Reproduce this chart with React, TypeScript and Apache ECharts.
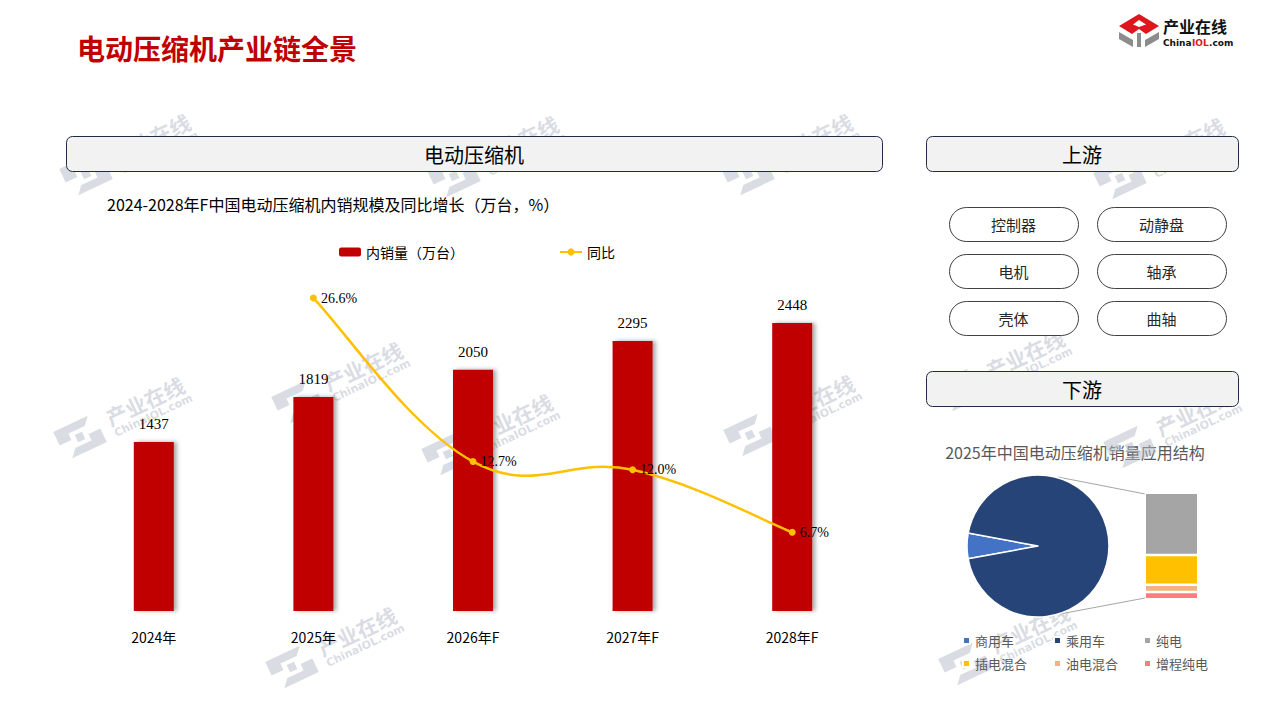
import React, { useEffect, useRef } from "react";
import * as echarts from "echarts";

// ---- data ----
const years = ["2024年", "2025年", "2026年F", "2027年F", "2028年F"];
const salesVolume = [1437, 1819, 2050, 2295, 2448];
const yoyGrowth: (number | null)[] = [null, 26.6, 12.7, 12.0, 6.7];

const upstreamParts = ["控制器", "动静盘", "电机", "轴承", "壳体", "曲轴"];

const vehicleNames = ["商用车", "乘用车"];
const vehicleShares = [5.8, 94.2];

const powertrainNames = ["纯电", "插电混合", "油电混合", "增程纯电"];
const powertrainShares = [58.4, 27.9, 7.0, 6.7];

// ---- styles ----
const FONT = "'Noto Sans CJK SC', 'Noto Sans', sans-serif";
const SERIF = "'Liberation Serif', 'DejaVu Serif', serif";
const LATIN = "'DejaVu Sans', sans-serif";
const RED = "#C00000";
const GOLD = "#FFC000";
const vehicleColors = ["#4472C4", "#264478"];
const powertrainColors = ["#A5A5A5", "#FFC000", "#F4B183", "#FF7C80"];
const CURVE_TENSION = 0.2;

// faint brand watermark placed across the page (logo centre points)
const watermarkSpots: [number, number][] = [
  [86, 174], [454, 176], [748, 174], [1120, 178],
  [80, 437], [298, 402], [448, 454], [750, 435], [960, 390], [1130, 447],
  [292, 667], [965, 664],
];

function watermark(x: number, y: number) {
  const fill = "#b4bac7";
  return {
    type: "group",
    x,
    y,
    rotation: 0.44,
    z: 100,
    silent: true,
    children: [
      {
        type: "polygon",
        shape: { points: [[-22, -16], [16, -16], [9, -8], [-9, -8], [-9, -1], [-22, -1]] },
        style: { fill, opacity: 0.5 },
      },
      {
        type: "polygon",
        shape: { points: [[22, 16], [-16, 16], [-9, 8], [9, 8], [9, 1], [22, 1]] },
        style: { fill, opacity: 0.5 },
      },
      {
        type: "rect",
        shape: { x: -4, y: -4, width: 8, height: 8 },
        style: { fill, opacity: 0.5 },
      },
      {
        type: "text",
        x: 32,
        y: -5,
        style: {
          text: "产业在线",
          fill,
          opacity: 0.5,
          font: `bold 21px ${FONT}`,
          align: "left",
          verticalAlign: "middle",
        },
      },
      {
        type: "text",
        x: 33,
        y: 12,
        style: {
          text: "ChinaIOL.com",
          fill,
          opacity: 0.5,
          font: `bold 11px ${LATIN}`,
          align: "left",
          verticalAlign: "middle",
        },
      },
    ],
  };
}

function headerBox(x: number, y: number, w: number, label: string) {
  return [
    {
      type: "rect",
      z: 1,
      silent: true,
      shape: { x: x + 0.5, y: y + 0.5, width: w, height: 35, r: 6 },
      style: { fill: "#F2F2F2", stroke: "#1F2A44", lineWidth: 1 },
    },
    {
      type: "text",
      z: 2,
      silent: true,
      x: x + w / 2,
      y: y + 18,
      style: {
        text: label,
        fill: "#000",
        font: `20px ${FONT}`,
        align: "center",
        verticalAlign: "middle",
      },
    },
  ];
}

function pill(x: number, y: number, label: string) {
  return [
    {
      type: "rect",
      z: 1,
      silent: true,
      shape: { x: x + 0.5, y: y + 0.5, width: 129, height: 34, r: 17 },
      style: { fill: "#fff", stroke: "#404040", lineWidth: 1 },
    },
    {
      type: "text",
      z: 2,
      silent: true,
      x: x + 64.5,
      y: y + 17.5,
      style: {
        text: label,
        fill: "#262626",
        font: `15px ${FONT}`,
        align: "center",
        verticalAlign: "middle",
      },
    },
  ];
}

// smoothed growth curve: cubic segments through the growth points
function renderGrowthCurve(params: any, api: any) {
  const i = params.dataIndex;
  const valid = (k: number) => k >= 0 && k < yoyGrowth.length && yoyGrowth[k] != null;
  if (!valid(i) || !valid(i + 1)) return { type: "group", children: [] };
  const pt = (k: number) => api.coord([k, yoyGrowth[k] as number]);
  const p0 = pt(valid(i - 1) ? i - 1 : i);
  const p1 = pt(i);
  const p2 = pt(i + 1);
  const p3 = pt(valid(i + 2) ? i + 2 : i + 1);
  return {
    type: "bezierCurve",
    shape: {
      x1: p1[0],
      y1: p1[1],
      cpx1: p1[0] + (p2[0] - p0[0]) * CURVE_TENSION,
      cpy1: p1[1] + (p2[1] - p0[1]) * CURVE_TENSION,
      cpx2: p2[0] - (p3[0] - p1[0]) * CURVE_TENSION,
      cpy2: p2[1] - (p3[1] - p1[1]) * CURVE_TENSION,
      x2: p2[0],
      y2: p2[1],
    },
    style: { stroke: GOLD, lineWidth: 2.5, fill: "none" },
  };
}

function buildOption() {
  const pillCols = [949, 1097];
  const pillRows = [207, 254, 301];
  const pills = upstreamParts.flatMap((p, i) =>
    pill(pillCols[i % 2], pillRows[Math.floor(i / 2)], p)
  );

  const graphic: any[] = [
    // page title
    {
      type: "text",
      x: 77,
      y: 48,
      silent: true,
      style: {
        text: "电动压缩机产业链全景",
        fill: RED,
        font: `bold 28px ${FONT}`,
        align: "left",
        verticalAlign: "middle",
      },
    },
    // brand logo, top right
    {
      type: "group",
      x: 1119,
      y: 14,
      silent: true,
      children: [
        {
          type: "polygon",
          shape: { points: [[20, 0], [40, 12], [27, 20], [20, 15], [13, 20], [0, 12]] },
          style: { fill: "#E0161E" },
        },
        {
          type: "polygon",
          shape: { points: [[20, 6], [27, 10.5], [20, 13], [14, 10.5]] },
          style: { fill: "#fff" },
        },
        {
          type: "polygon",
          shape: { points: [[0, 18], [14, 26], [14, 33], [0, 25]] },
          style: { fill: "#8C8C8C" },
        },
        {
          type: "polygon",
          shape: { points: [[26, 26], [40, 18], [40, 25], [26, 33]] },
          style: { fill: "#8C8C8C" },
        },
        {
          type: "rect",
          shape: { x: 18, y: 19, width: 4, height: 14 },
          style: { fill: "#8C8C8C" },
        },
      ],
    },
    {
      type: "text",
      x: 1163,
      y: 26,
      silent: true,
      style: {
        text: "产业在线",
        fill: "#111",
        font: `bold 16px ${FONT}`,
        align: "left",
        verticalAlign: "middle",
      },
    },
    {
      type: "text",
      x: 1163,
      y: 43,
      silent: true,
      style: { text: "China", fill: "#111", font: `bold 9px ${LATIN}`, align: "left", verticalAlign: "middle" },
    },
    {
      type: "text",
      x: 1192,
      y: 43,
      silent: true,
      style: { text: "IOL", fill: "#E0161E", font: `bold 9px ${LATIN}`, align: "left", verticalAlign: "middle" },
    },
    {
      type: "text",
      x: 1209,
      y: 43,
      silent: true,
      style: { text: ".com", fill: "#111", font: `bold 9px ${LATIN}`, align: "left", verticalAlign: "middle" },
    },
    ...headerBox(66, 136, 816, "电动压缩机"),
    ...headerBox(926, 136, 312, "上游"),
    ...headerBox(926, 371, 312, "下游"),
    ...pills,
    // chart titles
    {
      type: "text",
      x: 107,
      y: 204,
      silent: true,
      style: {
        text: "2024-2028年F中国电动压缩机内销规模及同比增长（万台，%）",
        fill: "#000",
        font: `16px ${FONT}`,
        align: "left",
        verticalAlign: "middle",
      },
    },
    {
      type: "text",
      x: 1075,
      y: 452,
      silent: true,
      style: {
        text: "2025年中国电动压缩机销量应用结构",
        fill: "#595959",
        font: `16px ${FONT}`,
        align: "center",
        verticalAlign: "middle",
      },
    },
    // connectors from the pie to the breakdown bar
    {
      type: "line",
      silent: true,
      shape: { x1: 1058, y1: 477, x2: 1145, y2: 494 },
      style: { stroke: "#A6A6A6", lineWidth: 1 },
    },
    {
      type: "line",
      silent: true,
      shape: { x1: 1060, y1: 614, x2: 1145, y2: 598 },
      style: { stroke: "#A6A6A6", lineWidth: 1 },
    },
    ...watermarkSpots.map(([x, y]) => watermark(x, y)),
  ];

  const pieLegendPos: [number, number][] = [
    [962, 634], [1053, 634], [1143, 634],
    [962, 657], [1053, 657], [1143, 657],
  ];
  const pieLegendNames = [vehicleNames[0], vehicleNames[1], ...powertrainNames];
  const pieLegends = pieLegendNames.map((name, i) => ({
    data: [name],
    left: pieLegendPos[i][0],
    top: pieLegendPos[i][1],
    icon: "rect",
    itemWidth: 7,
    itemHeight: 7,
    padding: 0,
    selectedMode: false,
    textStyle: { fontSize: 13, color: "#595959", fontFamily: FONT },
  }));

  return {
    animation: false,
    backgroundColor: "#fff",
    textStyle: { fontFamily: FONT },
    graphic,
    legend: [
      {
        data: [
          { name: "内销量（万台）" },
          { name: "同比", lineStyle: { opacity: 1, color: GOLD } },
        ],
        left: 339,
        top: 245,
        itemWidth: 22,
        itemHeight: 9,
        itemGap: 95,
        padding: 0,
        selectedMode: false,
        textStyle: { fontSize: 14, color: "#000", fontFamily: FONT },
      },
      ...pieLegends,
    ],
    grid: [
      { left: 74, top: 258, width: 798, height: 353 },
      { left: 1144.75, top: 492.75, width: 53.5, height: 106.5 },
    ],
    xAxis: [
      {
        gridIndex: 0,
        type: "category",
        data: years,
        axisLine: { show: false },
        axisTick: { show: false },
        axisLabel: { margin: 19, fontSize: 14, color: "#000", fontFamily: FONT },
      },
      { gridIndex: 1, type: "category", data: ["乘用车"], show: false },
    ],
    yAxis: [
      { gridIndex: 0, type: "value", min: 0, max: 3000, show: false },
      { gridIndex: 0, type: "value", min: 0, max: 30, show: false },
      { gridIndex: 1, type: "value", min: 0, max: 100, show: false },
    ],
    series: [
      {
        name: "内销量（万台）",
        type: "bar",
        xAxisIndex: 0,
        yAxisIndex: 0,
        data: salesVolume,
        barWidth: 40,
        itemStyle: {
          color: RED,
          shadowColor: "rgba(0,0,0,0.35)",
          shadowBlur: 4,
          shadowOffsetX: 3,
        },
        label: {
          show: true,
          position: "top",
          distance: 10,
          color: "#000",
          fontSize: 15,
          fontFamily: SERIF,
        },
        silent: true,
      },
      {
        type: "custom",
        xAxisIndex: 0,
        yAxisIndex: 1,
        z: 4,
        silent: true,
        data: yoyGrowth.map((v, i) => [i, v == null ? 0 : v]),
        renderItem: renderGrowthCurve,
      },
      {
        name: "同比",
        type: "line",
        xAxisIndex: 0,
        yAxisIndex: 1,
        data: yoyGrowth,
        z: 5,
        symbol: "circle",
        symbolSize: 7,
        lineStyle: { color: GOLD, width: 2.5, opacity: 0 },
        itemStyle: { color: GOLD },
        label: {
          show: true,
          position: "right",
          distance: 4,
          color: "#000",
          fontSize: 14,
          fontFamily: SERIF,
          formatter: (p: any) => `${Number(p.value).toFixed(1)}%`,
        },
        silent: true,
      },
      {
        type: "pie",
        center: [1038, 546],
        radius: 71,
        startAngle: 190.4,
        clockwise: true,
        label: { show: false },
        labelLine: { show: false },
        emphasis: { disabled: true },
        silent: true,
        itemStyle: { borderColor: "#fff", borderWidth: 1.5 },
        data: vehicleNames.map((name, i) => ({
          name,
          value: vehicleShares[i],
          itemStyle: { color: vehicleColors[i] },
        })),
      },
      // powertrain breakdown, stacked from the bottom up
      ...powertrainNames
        .map((name, i) => ({
          name,
          type: "bar",
          xAxisIndex: 1,
          yAxisIndex: 2,
          stack: "powertrain",
          barWidth: "100%",
          data: [powertrainShares[i]],
          silent: true,
          itemStyle: {
            color: powertrainColors[i],
            borderColor: "#fff",
            borderWidth: 1.25,
          },
        }))
        .reverse(),
    ],
  };
}

export default function App() {
  const ref = useRef<HTMLDivElement>(null);

  useEffect(() => {
    if (!ref.current) return;
    const chart = echarts.init(ref.current, null, { renderer: "svg" });
    chart.setOption(buildOption() as any);
    return () => chart.dispose();
  }, []);

  return (
    <div
      ref={ref}
      style={{ position: "fixed", left: 0, top: 0, width: 1280, height: 720, background: "#fff" }}
    />
  );
}
